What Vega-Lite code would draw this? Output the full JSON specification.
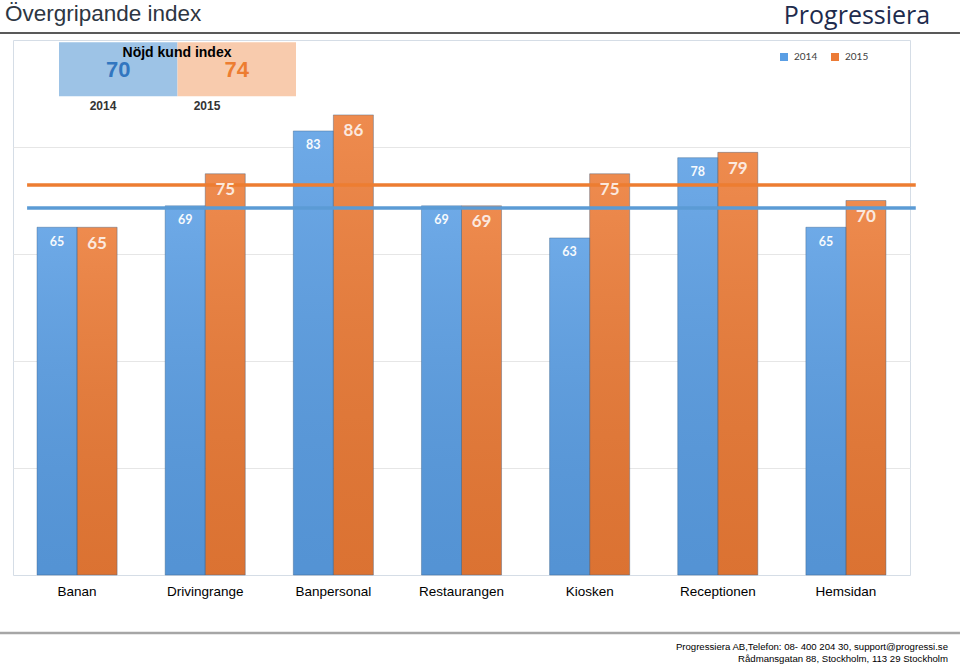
{
  "$schema": "https://vega.github.io/schema/vega-lite/v6.json",
  "width": 897,
  "height": 535,
  "autosize": {"type": "none"},
  "padding": {"left": 13, "top": 40, "right": 50, "bottom": 90},
  "background": "white",
  "config": {
    "view": {"stroke": "#d5dde6", "strokeWidth": 1},
    "font": "Liberation Sans"
  },
  "data": {
    "values": [
      {"category": "Banan", "year": "2014", "value": 65},
      {"category": "Banan", "year": "2015", "value": 65},
      {"category": "Drivingrange", "year": "2014", "value": 69},
      {"category": "Drivingrange", "year": "2015", "value": 75},
      {"category": "Banpersonal", "year": "2014", "value": 83},
      {"category": "Banpersonal", "year": "2015", "value": 86},
      {"category": "Restaurangen", "year": "2014", "value": 69},
      {"category": "Restaurangen", "year": "2015", "value": 69},
      {"category": "Kiosken", "year": "2014", "value": 63},
      {"category": "Kiosken", "year": "2015", "value": 75},
      {"category": "Receptionen", "year": "2014", "value": 78},
      {"category": "Receptionen", "year": "2015", "value": 79},
      {"category": "Hemsidan", "year": "2014", "value": 65},
      {"category": "Hemsidan", "year": "2015", "value": 70}
    ]
  },
  "layer": [
    {
      "layer": [
        {
          "mark": {"type": "bar"},
          "encoding": {
            "x": {
              "field": "category", "type": "nominal",
              "scale": {"domain": ["Banan", "Drivingrange", "Banpersonal", "Restaurangen", "Kiosken", "Receptionen", "Hemsidan"], "paddingInner": 0.375, "paddingOuter": 0.1875},
              "axis": {"title": null, "ticks": false, "domain": false, "grid": false, "labelAngle": 0, "labelFont": "Liberation Sans", "labelFontSize": 13.5, "labelColor": "#000000", "labelPadding": 9}
            },
            "xOffset": {"field": "year", "type": "nominal", "scale": {"domain": ["2014", "2015"], "paddingInner": 0}},
            "y": {
              "field": "value", "type": "quantitative",
              "scale": {"domain": [0, 100], "nice": false},
              "axis": {"title": null, "labels": false, "ticks": false, "domain": false, "grid": true, "gridColor": "#e6e6e6", "gridWidth": 1.2, "values": [20, 40, 60, 80]}
            },
            "color": {
              "field": "year", "type": "nominal",
              "scale": {"domain": ["2014", "2015"], "range": ["#5a9ee4", "#ec7b36"]},
              "legend": {"orient": "none", "legendX": 766, "legendY": 12, "direction": "horizontal", "title": null, "symbolType": "square", "symbolSize": 64, "symbolStrokeWidth": 0, "labelFontSize": 10, "labelFont": "Lato", "labelColor": "#404040", "columnPadding": 12, "labelOffset": 5, "padding": 0}
            }
          }
        },
        {
          "mark": {
            "type": "bar",
            "fill": {"gradient": "linear", "x1": 0, "y1": 0, "x2": 0, "y2": 1, "stops": [{"offset": 0, "color": "rgba(255,255,255,0.12)"}, {"offset": 1, "color": "rgba(0,0,0,0.07)"}]},
            "stroke": "#3a5f88", "strokeOpacity": 0.4, "strokeWidth": 1
          },
          "encoding": {
            "x": {"field": "category", "type": "nominal", "scale": {"domain": ["Banan", "Drivingrange", "Banpersonal", "Restaurangen", "Kiosken", "Receptionen", "Hemsidan"], "paddingInner": 0.375, "paddingOuter": 0.1875}},
            "xOffset": {"field": "year", "type": "nominal", "scale": {"domain": ["2014", "2015"], "paddingInner": 0}},
            "y": {
              "field": "value", "type": "quantitative", "scale": {"domain": [0, 100], "nice": false},
              "axis": {"title": null, "labels": false, "ticks": false, "domain": false, "grid": true, "gridColor": "#e6e6e6", "gridWidth": 1.2, "values": [20, 40, 60, 80]}
            }
          }
        }
      ]
    },
    {
      "data": {"values": [{"year": "2014", "avg": 68.6}, {"year": "2015", "avg": 72.9}]},
      "mark": {"type": "rule", "strokeWidth": 3.5},
      "encoding": {
        "x": {"datum": 0.11, "type": "quantitative", "scale": {"domain": [0, 7], "nice": false, "zero": false}, "axis": null},
        "x2": {"datum": 7.045},
        "y": {"field": "avg", "type": "quantitative", "scale": {"domain": [0, 100], "nice": false}, "axis": null},
        "color": {"condition": {"test": "datum.year === '2014'", "value": "#5b9bd5"}, "value": "#ed7d31"}
      }
    },
    {
      "layer": [
        {
          "transform": [{"filter": "datum.year === '2014'"}],
          "mark": {"type": "text", "dy": 14.5, "baseline": "middle", "fontSize": 12.5, "fontWeight": "bold", "font": "Lato", "color": "#ffffff", "opacity": 0.95},
          "encoding": {
            "x": {"field": "category", "type": "nominal", "scale": {"domain": ["Banan", "Drivingrange", "Banpersonal", "Restaurangen", "Kiosken", "Receptionen", "Hemsidan"], "paddingInner": 0.375, "paddingOuter": 0.1875}, "axis": null},
            "xOffset": {"field": "year", "type": "nominal", "scale": {"domain": ["2014", "2015"], "paddingInner": 0}},
            "y": {"field": "value", "type": "quantitative", "scale": {"domain": [0, 100], "nice": false}, "axis": null},
            "text": {"field": "value", "type": "quantitative"}
          }
        },
        {
          "transform": [{"filter": "datum.year === '2015'"}],
          "mark": {"type": "text", "dy": 16.5, "baseline": "middle", "fontSize": 17, "fontWeight": "bold", "font": "Lato", "color": "#ffffff", "opacity": 0.82},
          "encoding": {
            "x": {"field": "category", "type": "nominal", "scale": {"domain": ["Banan", "Drivingrange", "Banpersonal", "Restaurangen", "Kiosken", "Receptionen", "Hemsidan"], "paddingInner": 0.375, "paddingOuter": 0.1875}, "axis": null},
            "xOffset": {"field": "year", "type": "nominal", "scale": {"domain": ["2014", "2015"], "paddingInner": 0}},
            "y": {"field": "value", "type": "quantitative", "scale": {"domain": [0, 100], "nice": false}, "axis": null},
            "text": {"field": "value", "type": "quantitative"}
          }
        }
      ]
    },
    {
      "data": {"values": [{"year": "2014", "nki": 70}, {"year": "2015", "nki": 74}]},
      "layer": [
        {
          "mark": {"type": "rect"},
          "encoding": {
            "x": {"field": "year", "type": "nominal", "scale": {"type": "band", "range": [46, 283], "paddingInner": 0, "paddingOuter": 0}, "axis": null},
            "y": {"datum": 99.6, "type": "quantitative", "scale": {"domain": [0, 100], "nice": false}, "axis": null},
            "y2": {"datum": 89.5},
            "color": {"condition": {"test": "datum.year === '2014'", "value": "#9dc3e6"}, "value": "#f8cbad"}
          }
        },
        {
          "mark": {"type": "text", "fontSize": 22, "fontWeight": "bold", "font": "Liberation Sans", "baseline": "middle"},
          "encoding": {
            "x": {"field": "year", "type": "nominal", "scale": {"type": "band", "range": [46, 283], "paddingInner": 0, "paddingOuter": 0}, "axis": null},
            "y": {"datum": 94.4, "type": "quantitative", "scale": {"domain": [0, 100], "nice": false}, "axis": null},
            "text": {"field": "nki", "type": "quantitative"},
            "color": {"condition": {"test": "datum.year === '2014'", "value": "#3176c0"}, "value": "#ed7d31"}
          }
        }
      ]
    },
    {
      "data": {"values": [{}]},
      "layer": [
        {
          "mark": {"type": "rule", "color": "#595959", "strokeWidth": 2},
          "encoding": {
            "x": {"datum": -0.102, "type": "quantitative", "scale": {"domain": [0, 7], "nice": false, "zero": false}, "axis": null},
            "x2": {"datum": 7.39},
            "y": {"datum": 101.31, "type": "quantitative", "scale": {"domain": [0, 100], "nice": false}, "axis": null}
          }
        },
        {
          "mark": {"type": "rule", "color": "#a6a6a6", "strokeWidth": 2.5},
          "encoding": {
            "x": {"datum": -0.102, "type": "quantitative", "scale": {"domain": [0, 7], "nice": false, "zero": false}, "axis": null},
            "x2": {"datum": 7.39},
            "y": {"datum": -10.84, "type": "quantitative", "scale": {"domain": [0, 100], "nice": false}, "axis": null}
          }
        },
        {
          "mark": {"type": "text", "align": "left", "baseline": "middle", "fontSize": 22.5, "font": "Liberation Sans", "color": "#2d3642"},
          "encoding": {
            "x": {"datum": -0.0624, "type": "quantitative", "scale": {"domain": [0, 7], "nice": false, "zero": false}, "axis": null},
            "y": {"datum": 104.86, "type": "quantitative", "scale": {"domain": [0, 100], "nice": false}, "axis": null},
            "text": {"value": "Övergripande index"}
          }
        },
        {
          "mark": {"type": "text", "align": "center", "baseline": "alphabetic", "fontSize": 25, "font": "Open Sans", "color": "#1e2b4d"},
          "encoding": {
            "x": {"datum": 6.5865, "type": "quantitative", "scale": {"domain": [0, 7], "nice": false, "zero": false}, "axis": null},
            "y": {"datum": 102.95, "type": "quantitative", "scale": {"domain": [0, 100], "nice": false}, "axis": null},
            "text": {"value": "Progressiera"}
          }
        },
        {
          "mark": {"type": "text", "align": "center", "baseline": "middle", "fontSize": 14, "fontWeight": "bold", "font": "Liberation Sans", "color": "#000000"},
          "encoding": {
            "x": {"datum": 1.2799, "type": "quantitative", "scale": {"domain": [0, 7], "nice": false, "zero": false}, "axis": null},
            "y": {"datum": 97.57, "type": "quantitative", "scale": {"domain": [0, 100], "nice": false}, "axis": null},
            "text": {"value": "Nöjd kund index"}
          }
        },
        {
          "mark": {"type": "text", "align": "center", "baseline": "middle", "fontSize": 12, "fontWeight": "bold", "font": "Liberation Sans", "color": "#333333"},
          "encoding": {
            "x": {"datum": 0.7024, "type": "quantitative", "scale": {"domain": [0, 7], "nice": false, "zero": false}, "axis": null},
            "y": {"datum": 87.66, "type": "quantitative", "scale": {"domain": [0, 100], "nice": false}, "axis": null},
            "text": {"value": "2014"}
          }
        },
        {
          "mark": {"type": "text", "align": "center", "baseline": "middle", "fontSize": 12, "fontWeight": "bold", "font": "Liberation Sans", "color": "#333333"},
          "encoding": {
            "x": {"datum": 1.514, "type": "quantitative", "scale": {"domain": [0, 7], "nice": false, "zero": false}, "axis": null},
            "y": {"datum": 87.66, "type": "quantitative", "scale": {"domain": [0, 100], "nice": false}, "axis": null},
            "text": {"value": "2015"}
          }
        },
        {
          "mark": {"type": "text", "align": "right", "baseline": "middle", "fontSize": 9.6, "font": "Liberation Sans", "color": "#000000"},
          "encoding": {
            "x": {"datum": 7.2966, "type": "quantitative", "scale": {"domain": [0, 7], "nice": false, "zero": false}, "axis": null},
            "y": {"datum": -13.46, "type": "quantitative", "scale": {"domain": [0, 100], "nice": false}, "axis": null},
            "text": {"value": "Progressiera AB,Telefon: 08-  400 204 30, support@progressi.se"}
          }
        },
        {
          "mark": {"type": "text", "align": "right", "baseline": "middle", "fontSize": 9.6, "font": "Liberation Sans", "color": "#000000"},
          "encoding": {
            "x": {"datum": 7.2966, "type": "quantitative", "scale": {"domain": [0, 7], "nice": false, "zero": false}, "axis": null},
            "y": {"datum": -15.7, "type": "quantitative", "scale": {"domain": [0, 100], "nice": false}, "axis": null},
            "text": {"value": "Rådmansgatan 88, Stockholm, 113 29 Stockholm"}
          }
        }
      ]
    }
  ],
  "resolve": {"scale": {"x": "independent"}, "axis": {"x": "independent", "y": "independent"}}
}
